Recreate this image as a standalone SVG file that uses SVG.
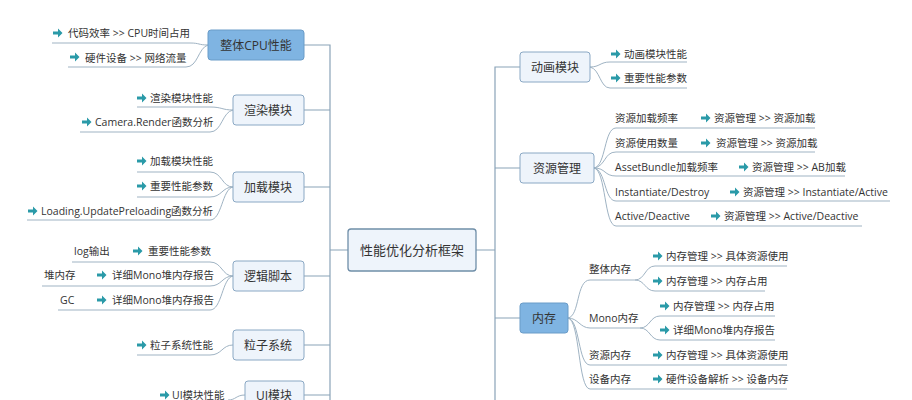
<svg xmlns="http://www.w3.org/2000/svg" width="912" height="400" viewBox="0 0 912 400">
<style>
text{font-family:"Open Sans","Noto Sans CJK SC",sans-serif;fill:#333}
.lf{font-size:10.5px}
.nd{font-size:12px;text-anchor:middle}
.n rect{fill:#eef4fb;stroke:#8aa8c4;stroke-width:1}
.b rect{fill:#7fb4e2;stroke:#6a9cc8}
#conn path{fill:none;stroke:#9fb3c3;stroke-width:1}
#conn .t{stroke:#8aa3b8;stroke-width:1.2}
</style>
<defs>
<g id="ar"><path d="M0,-1.6 H5 V-4.5 L9.5,0 L5,4.5 V1.6 H0 Z" fill="#2a9aa8"/></g>
</defs>
<rect width="912" height="400" fill="#fff"/>
<g id="conn">
<path class="t" d="M304,45 H330 V400 M304,110 H330 M304,187 H330 M304,276 H330 M304,345 H330 M304,395 H330 M330,250 H348"/>
<path class="t" d="M476,250 H495 M495,400 V67 H520 M495,168 H520 M495,318 H520"/>
<path d="M208,45 C198,45 200,43 190,43 H52 M208,45 C198,48 198,67 186,67 H68"/>
<path d="M233,110 C222,110 222,107 210,107 H137 M233,110 C222,112 222,132 210,132 H80"/>
<path d="M233,187 C222,187 222,172 210,172 H137 M233,187 C222,187 222,197 210,197 H137 M233,187 C222,189 222,220 210,220 H27"/>
<path d="M233,276 C222,276 222,262 210,262 H72 M233,276 C222,276 222,286 210,286 H42 M233,276 C222,278 222,310 210,310 H58"/>
<path d="M233,345 C222,345 222,355 210,355 H137"/>
<path d="M245,395 C236,395 236,400 228,400"/>
<path d="M590,67 C600,67 600,62 610,62 H687 M590,67 C600,69 600,88 610,88 H687"/>
<path d="M594,168 C606,166 604,128 616,128 H815 M594,168 C606,166 604,152 616,152 H815 M594,168 C606,168 604,176 616,176 H845 M594,168 C606,170 604,201 616,201 H890 M594,168 C606,170 604,226 616,226 H862"/>
<path d="M568,318 C580,316 576,280 590,280 H635 C645,280 645,266 655,266 H787 M635,280 C645,280 645,291 655,291 H765 M568,318 C578,318 580,328 590,328 H640 C650,328 650,316 660,316 H775 M640,328 C650,328 650,340 660,340 H775 M568,318 C580,320 578,365 590,365 H787 M568,318 C580,320 578,389 590,389 H787"/>
</g>
<g id="center" class="n"><rect x="348" y="229" width="128" height="42" rx="3" style="stroke:#6f8ea8;stroke-width:1.3"/><text class="nd" x="412" y="255" style="font-size:13px">性能优化分析框架</text></g>
<g id="cpu" class="n b"><rect x="208" y="30" width="96" height="30" rx="3"/><text class="nd" x="256" y="50">整体CPU性能</text></g>
<g id="render" class="n"><rect x="233" y="95" width="71" height="30" rx="3"/><text class="nd" x="268" y="115">渲染模块</text></g>
<g id="load" class="n"><rect x="233" y="172" width="71" height="30" rx="3"/><text class="nd" x="268" y="192">加载模块</text></g>
<g id="logic" class="n"><rect x="233" y="261" width="71" height="30" rx="3"/><text class="nd" x="268" y="281">逻辑脚本</text></g>
<g id="particle" class="n"><rect x="233" y="330" width="71" height="30" rx="3"/><text class="nd" x="268" y="350">粒子系统</text></g>
<g id="ui" class="n"><rect x="245" y="381" width="59" height="30" rx="3"/><text class="nd" x="274" y="400">UI模块</text></g>
<g id="anim" class="n"><rect x="520" y="52" width="70" height="30" rx="3"/><text class="nd" x="555" y="72">动画模块</text></g>
<g id="res" class="n"><rect x="520" y="153" width="74" height="30" rx="3"/><text class="nd" x="557" y="173">资源管理</text></g>
<g id="mem" class="n b"><rect x="520" y="303" width="48" height="30" rx="3"/><text class="nd" x="544" y="323">内存</text></g>
<g id="leaves">
<use href="#ar" x="53" y="33"/><text class="lf" x="68" y="37">代码效率 &gt;&gt; CPU时间占用</text>
<use href="#ar" x="70" y="57"/><text class="lf" x="85" y="62">硬件设备 &gt;&gt;  网络流量</text>
<use href="#ar" x="137" y="98"/><text class="lf" x="150" y="102">渲染模块性能</text>
<use href="#ar" x="82" y="122"/><text class="lf" x="95" y="126">Camera.Render函数分析</text>
<use href="#ar" x="137" y="161"/><text class="lf" x="150" y="165">加载模块性能</text>
<use href="#ar" x="137" y="186"/><text class="lf" x="150" y="190">重要性能参数</text>
<use href="#ar" x="28" y="211"/><text class="lf" x="41" y="215">Loading.UpdatePreloading函数分析</text>
<text class="lf" x="74" y="255">log输出</text><use href="#ar" x="133" y="251"/><text class="lf" x="148" y="255">重要性能参数</text>
<text class="lf" x="44" y="279">堆内存</text><use href="#ar" x="97" y="275"/><text class="lf" x="112" y="279">详细Mono堆内存报告</text>
<text class="lf" x="60" y="304">GC</text><use href="#ar" x="97" y="300"/><text class="lf" x="112" y="304">详细Mono堆内存报告</text>
<use href="#ar" x="137" y="345"/><text class="lf" x="150" y="349">粒子系统性能</text>
<use href="#ar" x="160" y="395"/><text class="lf" x="172" y="399">UI模块性能</text>
<use href="#ar" x="611" y="54"/><text class="lf" x="624" y="58">动画模块性能</text>
<use href="#ar" x="611" y="78"/><text class="lf" x="624" y="82">重要性能参数</text>
<text class="lf" x="615" y="122">资源加载频率</text><use href="#ar" x="701" y="118"/><text class="lf" x="714" y="122">资源管理 &gt;&gt; 资源加载</text>
<text class="lf" x="615" y="147">资源使用数量</text><use href="#ar" x="701" y="143"/><text class="lf" x="716" y="147">资源管理 &gt;&gt; 资源加载</text>
<text class="lf" x="615" y="171">AssetBundle加载频率</text><use href="#ar" x="739" y="167"/><text class="lf" x="752" y="171">资源管理 &gt;&gt; AB加载</text>
<text class="lf" x="615" y="196">Instantiate/Destroy</text><use href="#ar" x="730" y="192"/><text class="lf" x="743" y="196">资源管理 &gt;&gt; Instantiate/Active</text>
<text class="lf" x="615" y="220">Active/Deactive</text><use href="#ar" x="711" y="216"/><text class="lf" x="724" y="220">资源管理 &gt;&gt;  Active/Deactive</text>
<text class="lf" x="589" y="273">整体内存</text>
<use href="#ar" x="653" y="256"/><text class="lf" x="666" y="260">内存管理 &gt;&gt; 具体资源使用</text>
<use href="#ar" x="653" y="281"/><text class="lf" x="666" y="285">内存管理 &gt;&gt; 内存占用</text>
<text class="lf" x="589" y="322">Mono内存</text>
<use href="#ar" x="660" y="306"/><text class="lf" x="673" y="310">内存管理 &gt;&gt; 内存占用</text>
<use href="#ar" x="660" y="330"/><text class="lf" x="673" y="334">详细Mono堆内存报告</text>
<text class="lf" x="589" y="359">资源内存</text><use href="#ar" x="653" y="355"/><text class="lf" x="666" y="359">内存管理 &gt;&gt; 具体资源使用</text>
<text class="lf" x="589" y="383">设备内存</text><use href="#ar" x="653" y="379"/><text class="lf" x="666" y="383">硬件设备解析 &gt;&gt; 设备内存</text>
</g>
</svg>
